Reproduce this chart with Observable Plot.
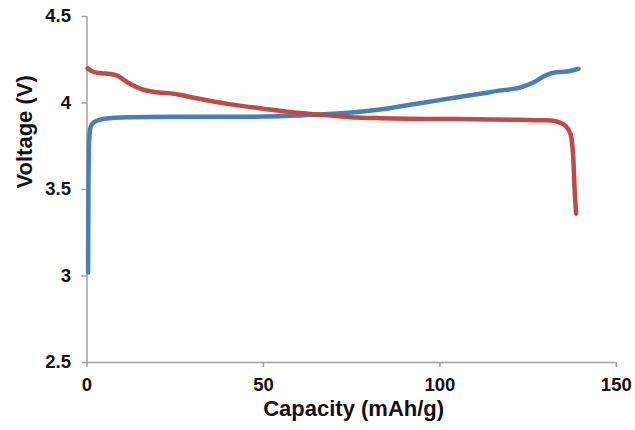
<!DOCTYPE html>
<html>
<head>
<meta charset="utf-8">
<script src="https://cdn.jsdelivr.net/npm/d3@7"></script>
<script src="https://cdn.jsdelivr.net/npm/@observablehq/plot@0.6"></script>
<style>
  html, body { margin: 0; padding: 0; background: #fff; }
  #chart { width: 635px; height: 430px; }
  svg { font-family: "Liberation Sans", Arial, sans-serif; }
</style>
</head>
<body>
<div id="chart"></div>
<script>
const chargeCapacity = [0.3, 0.4, 0.6, 1.0, 2, 4.8, 11.4, 25, 40.8, 50, 60, 66, 75, 83, 92.5, 102, 111.5, 116.3, 122.9, 126.5, 130, 132.2, 136.1, 139.3];
const chargeVoltage  = [3.02, 3.5, 3.78, 3.86, 3.889, 3.909, 3.918, 3.92, 3.92, 3.922, 3.928, 3.933, 3.945, 3.962, 3.993, 4.024, 4.053, 4.07, 4.09, 4.118, 4.16, 4.175, 4.182, 4.198];
const dischargeCapacity = [0.2, 2, 4, 6.7, 8.6, 11.4, 15.2, 19.9, 24.6, 30.3, 39.8, 50.2, 59.6, 66.2, 74.7, 83.2, 91.7, 105, 122.9, 130.4, 132.2, 134.2, 135.5, 137, 137.8, 138.2, 138.6];
const dischargeVoltage  = [4.2, 4.178, 4.172, 4.168, 4.158, 4.12, 4.082, 4.062, 4.053, 4.03, 3.995, 3.966, 3.943, 3.932, 3.918, 3.912, 3.909, 3.907, 3.903, 3.9, 3.897, 3.885, 3.87, 3.822, 3.687, 3.494, 3.36];
const xTicks = [0, 50, 100, 150];
const yTicks = [2.5, 3, 3.5, 4, 4.5];
const xLabel = "Capacity (mAh/g)";
const yLabel = "Voltage (V)";

const charge = chargeCapacity.map((c, i) => ({c, v: chargeVoltage[i]}));
const discharge = dischargeCapacity.map((c, i) => ({c, v: dischargeVoltage[i]}));

const axisColor = "#a0a0a0";
const chart = Plot.plot({
  width: 635,
  height: 430,
  marginLeft: 86.5,
  marginRight: 19.2,
  marginTop: 16,
  marginBottom: 68,
  style: {background: "#fff", fontFamily: "Liberation Sans, Arial, sans-serif"},
  x: {domain: [0, 150]},
  y: {domain: [2.5, 4.5]},
  marks: [
    Plot.ruleX([0], {stroke: axisColor, strokeWidth: 1.5}),
    Plot.ruleY([2.5], {stroke: axisColor, strokeWidth: 1.5}),
    Plot.axisX({ticks: xTicks, text: null, tickSize: 5, stroke: axisColor, strokeWidth: 1.5, label: null}),
    Plot.axisY({ticks: yTicks, text: null, tickSize: 5, stroke: axisColor, strokeWidth: 1.5, label: null}),
    Plot.axisX({ticks: xTicks, tickSize: 0, tickPadding: 15, fontSize: 18.5, fontWeight: "bold", fill: "#111", label: null, tickFormat: d => `${d}`}),
    Plot.axisY({ticks: yTicks, tickSize: 0, tickPadding: 16, fontSize: 18.5, fontWeight: "bold", fill: "#111", label: null, tickFormat: d => `${d}`}),
    Plot.line(charge, {x: "c", y: "v", stroke: "#4a7ebb", strokeWidth: 4.5, curve: "monotone-x"}),
    Plot.line(discharge, {x: "c", y: "v", stroke: "#be4b48", strokeWidth: 4.5, curve: "monotone-x"}),
    Plot.text([xLabel], {text: d => d, frameAnchor: "bottom", dx: 2, dy: 53, fontSize: 22, fontWeight: "bold", fill: "#111"}),
    Plot.text([yLabel], {text: d => d, frameAnchor: "left", dx: -62, dy: -1, rotate: -90, fontSize: 22, fontWeight: "bold", fill: "#111"})
  ]
});
document.getElementById("chart").append(chart);
</script>
</body>
</html>
